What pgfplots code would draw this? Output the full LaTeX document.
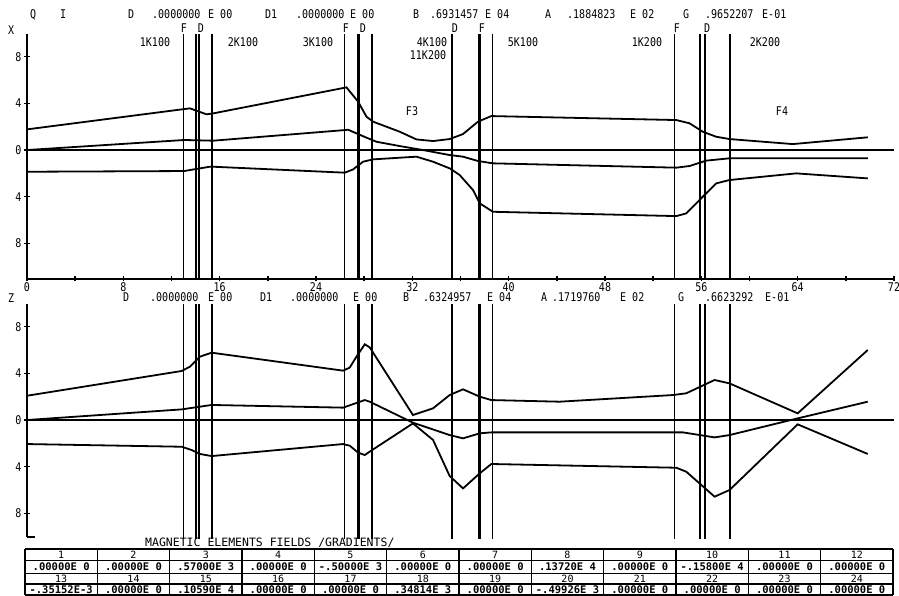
\documentclass[border=0pt]{standalone}
\usepackage{graphicx}
\usepackage{pgfplots}
\pgfplotsset{compat=1.18}
\usepackage{fontspec}
\setmainfont{DejaVu Sans Mono}
\newfontfamily\plotfont{DejaVu Sans Mono}
\newcommand\lab{\plotfont\fontsize{10}{10}\selectfont}
\newcommand\tabf{\plotfont\bfseries\fontsize{10.5}{10.5}\selectfont}
\newcommand\ttl{\plotfont\fontsize{11.5}{11.5}\selectfont}
\newcommand\st[1]{\scalebox{1}[1.2]{#1}}

\pgfplotstableread{
x y
0 1.77
13.05 3.51
13.53 3.57
14.91 3.06
15.46 3.14
26.39 5.34
26.53 5.37
27.5 4.14
28.19 2.86
28.74 2.43
30.95 1.57
32.34 0.91
33.72 0.77
35.1 0.94
36.21 1.37
37.45 2.43
38.56 2.91
53.92 2.57
55.02 2.29
56.12 1.57
57.23 1.14
58.34 0.94
63.6 0.51
69.82 1.09
}\xtop
\pgfplotstableread{
x y
0 0
13.05 0.86
15.46 0.8
26.39 1.71
26.66 1.74
28.19 1.06
29.02 0.71
30.95 0.34
32.88 0
35.1 -0.43
36.21 -0.57
37.45 -0.94
38.69 -1.14
53.92 -1.51
55.02 -1.37
56.4 -0.91
58.34 -0.71
69.82 -0.71
}\xmid
\pgfplotstableread{
x y
0 -1.86
13.05 -1.8
14.36 -1.57
15.19 -1.43
15.46 -1.43
26.39 -1.94
27.08 -1.66
27.91 -1.0
28.74 -0.8
32.34 -0.57
33.72 -1.0
35.1 -1.57
35.93 -2.14
37.04 -3.43
37.6 -4.57
38.69 -5.29
53.92 -5.66
54.75 -5.43
56.12 -4.0
57.23 -2.86
58.34 -2.57
63.87 -2.0
69.82 -2.43
}\xbot
\pgfplotstableread{
x y
0 2.08
12.84 4.2
13.53 4.57
14.36 5.43
15.33 5.77
26.25 4.23
26.8 4.49
27.36 5.43
28.05 6.49
28.46 6.23
32.05 0.43
33.72 1.0
35.1 2.14
36.21 2.63
37.6 2.0
38.56 1.71
44.23 1.57
53.64 2.14
54.75 2.29
57.1 3.43
58.34 3.14
64.0 0.57
69.82 6.0
}\ztop
\pgfplotstableread{
x y
0 0
12.84 0.91
15.33 1.29
26.25 1.06
28.05 1.71
28.46 1.57
32.05 -0.23
35.1 -1.29
36.21 -1.57
37.6 -1.14
38.56 -1.06
54.47 -1.06
57.1 -1.49
58.34 -1.29
64.0 0.14
69.82 1.57
}\zmid
\pgfplotstableread{
x y
0 -2.06
12.84 -2.29
13.67 -2.57
14.36 -2.91
15.33 -3.09
26.25 -2.06
26.8 -2.2
27.5 -2.8
28.05 -3.0
28.46 -2.71
32.05 -0.29
33.72 -1.71
35.1 -4.8
36.21 -5.86
37.6 -4.57
38.56 -3.77
53.92 -4.09
54.75 -4.43
57.1 -6.57
58.34 -6.0
64.0 -0.37
69.82 -2.91
}\zbot

\begin{document}
\begin{tikzpicture}[x=1pt,y=1pt]
\useasboundingbox[fill=white] (0,0) rectangle (899,596);

% ---------- upper panel (X) ----------
\begin{axis}[
  at={(27pt,317pt)}, anchor=south west,
  width=867pt, height=244.5pt, scale only axis,
  xmin=0, xmax=72, ymin=-11.05, ymax=9.9,
  axis x line=bottom, axis y line=left,
  axis line style={-, line width=2pt},
  xtick={0,8,...,72}, xticklabels={\st{0},\st{8},\st{16},\st{24},\st{32},\st{40},\st{48},\st{56},\st{64},\st{72}},
  minor xtick={4,12,...,68},
  ytick={-8,-4,0,4,8}, yticklabels={\st{8},\st{4},\st{0},\st{4},\st{8}},
  tick align=center, major tick length=5pt, minor tick length=5pt,
  every tick/.style={black, line width=1.5pt},
  ticklabel style={font=\lab, inner sep=0pt},
  xticklabel style={anchor=north, yshift=-1pt},
  yticklabel style={anchor=east, xshift=-3pt},
  clip=false,
]
\addplot[black, line width=2pt] coordinates {(0,0) (72,0)};
\pgfplotsinvokeforeach{12.99,14.04,14.29,15.38,26.35,28.67,35.31,38.67,53.78,55.91,56.31,58.38}{
  \addplot[black, line width=1.6pt] coordinates {(#1,-11.05) (#1,9.9)};
}
\pgfplotsinvokeforeach{27.51,37.55}{
  \addplot[black, line width=3pt] coordinates {(#1,-11.05) (#1,9.9)};
}
\addplot[black, line width=1.8pt] table[x=x,y=y] {\xtop};
\addplot[black, line width=1.8pt] table[x=x,y=y] {\xmid};
\addplot[black, line width=1.8pt] table[x=x,y=y] {\xbot};
\end{axis}

% ---------- lower panel (Z) ----------
\begin{axis}[
  at={(27pt,59.3pt)}, anchor=south west,
  width=867pt, height=232.2pt, scale only axis,
  xmin=0, xmax=72, ymin=-10, ymax=9.9,
  axis x line=none, axis y line=left,
  axis line style={-, line width=2pt},
  ytick={-8,-4,0,4,8}, yticklabels={\st{8},\st{4},\st{0},\st{4},\st{8}},
  tick align=center, major tick length=5pt,
  every tick/.style={black, line width=1.5pt},
  ticklabel style={font=\lab, inner sep=0pt},
  yticklabel style={anchor=east, xshift=-3pt},
  clip=false,
]
\addplot[black, line width=2pt] coordinates {(0,0) (72,0)};
\addplot[black, line width=2pt] coordinates {(0,-10) (0.7,-10)};
\pgfplotsinvokeforeach{12.99,14.04,14.29,15.38,26.35,28.67,35.31,38.67,53.78,55.91,56.31,58.38}{
  \addplot[black, line width=1.6pt] coordinates {(#1,-10.2) (#1,9.9)};
}
\pgfplotsinvokeforeach{27.51,37.55}{
  \addplot[black, line width=3pt] coordinates {(#1,-10.2) (#1,9.9)};
}
\addplot[black, line width=1.8pt] table[x=x,y=y] {\ztop};
\addplot[black, line width=1.8pt] table[x=x,y=y] {\zmid};
\addplot[black, line width=1.8pt] table[x=x,y=y] {\zbot};
\end{axis}

% ---------- header texts ----------
\begin{scope}[every node/.style={anchor=base west, inner sep=0pt, font=\lab}]
% upper header, baseline px 19
\foreach \xx/\tt in {30/Q, 60/I, 128/D, 152/.0000000, 208/E 00, 265/D1, 296/.0000000, 350/E 00,
   413/B, 430/.6931457, 485/E 04, 545/A, 567/.1884823, 630/E 02, 683/G, 705/.9652207, 762/E-01}
  \node at (\xx,577) {\st{\tt}};
% lower header, baseline px 302
\foreach \xx/\tt in {123/D, 150/.0000000, 208/E 00, 260/D1, 290/.0000000, 353/E 00,
   403/B, 423/.6324957, 487/E 04, 541/A, 552/.1719760, 620/E 02, 678/G, 705/.6623292, 765/E-01}
  \node at (\xx,294) {\st{\tt}};
\node at (8,561) {\st{X}};
\node at (8,293) {\st{Z}};
\end{scope}

% ---------- element labels ----------
\begin{scope}[every node/.style={anchor=base, inner sep=0pt, font=\lab}]
\foreach \xx/\tt in {184/F, 201/D, 346/F, 363/D, 455/D, 482/F, 677/F, 707/D}
  \node at (\xx,563) {\st{\tt}};
\foreach \xx/\tt in {155/1K100, 243/2K100, 318/3K100, 432/4K100, 523/5K100, 647/1K200, 765/2K200}
  \node at (\xx,549) {\st{\tt}};
\node at (428,536) {\st{11K200}};
\node at (412,480) {\st{F3}};
\node at (782,480) {\st{F4}};
\end{scope}

% ---------- table ----------
\node[anchor=base west, inner sep=0pt, font=\ttl] at (145,49) {MAGNETIC ELEMENTS FIELDS /GRADIENTS/};
\draw[line width=1.5pt] (25,47) -- (893,47);
\draw[line width=1.5pt] (25,35.3) -- (893,35.3);
\draw[line width=1.5pt] (25,22.7) -- (893,22.7);
\draw[line width=1.5pt] (25,12) -- (893,12);
\draw[line width=1.5pt] (25,0.8) -- (893,0.8);
\foreach \k in {0,...,12}
  \draw[line width=1.5pt] ({25+72.333*\k},47) -- ({25+72.333*\k},0.8);
\foreach \k in {1,...,12}
  \node[font=\lab, inner sep=0pt] at ({25+72.333*(\k-0.5)},41.2) {\k};
\foreach \k in {13,...,24}
  \node[font=\lab, inner sep=0pt] at ({25+72.333*(\k-12.5)},17.4) {\k};
\foreach \v [count=\k] in {.00000E 0,.00000E 0,.57000E 3,.00000E 0,-.50000E 3,.00000E 0,.00000E 0,.13720E 4,.00000E 0,-.15800E 4,.00000E 0,.00000E 0}
  \node[font=\tabf, inner sep=0pt] at ({25+72.333*(\k-0.5)},29) {\v};
\foreach \v [count=\k] in {-.35152E-3,.00000E 0,.10590E 4,.00000E 0,.00000E 0,.34814E 3,.00000E 0,-.49926E 3,.00000E 0,.00000E 0,.00000E 0,.00000E 0}
  \node[font=\tabf, inner sep=0pt] at ({25+72.333*(\k-0.5)},6.3) {\v};
\end{tikzpicture}
\end{document}
